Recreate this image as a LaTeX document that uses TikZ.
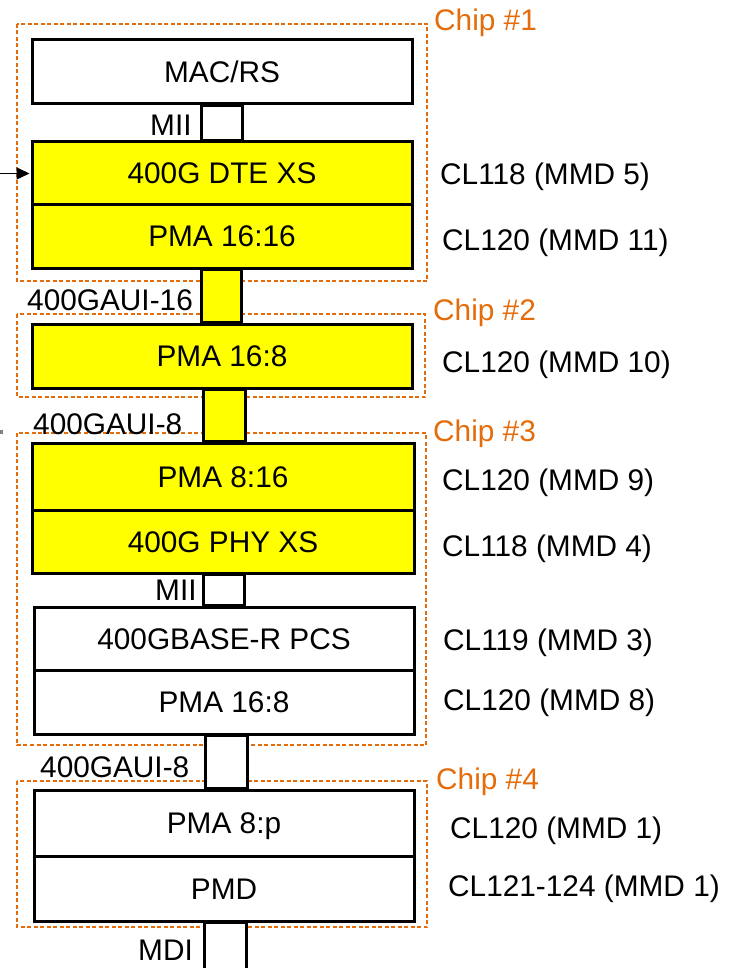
\documentclass[tikz,border=0pt]{standalone}
\usepackage{fontspec}
\setmainfont{Liberation Sans}
\usetikzlibrary{calc, arrows.meta}
\definecolor{chiporange}{RGB}{228, 108, 10}
\definecolor{layeryellow}{RGB}{255, 255, 0}

\begin{document}
\begin{tikzpicture}[
	x=1pt, y=-1pt,
	>=Stealth,
	font=\fontsize{29.8pt}{35pt}\selectfont,
	% Styles for the layer blocks
	layer/.style={draw=black, line width=3pt, fill=white, minimum width=380pt, minimum height=64pt, text height=21pt, text depth=0pt, inner sep=0pt},
	hotlayer/.style={layer, fill=layeryellow},
	% Styles for the interface stubs and chip frames
	stub/.style={draw=black, line width=3pt, fill=white},
	hotstub/.style={stub, fill=layeryellow},
	chipframe/.style={draw=chiporange, line width=1.4pt, dash pattern=on 4pt off 2.5pt},
	hostarrow/.style={line width=1.5pt, arrows={-Stealth[length=13pt, width=12pt, inset=0pt]}},
	% Styles for text
	chiptext/.style={anchor=base west, text=chiporange, inner sep=0pt},
	clausetext/.style={anchor=base west, inner sep=0pt},
	iftext/.style={anchor=base west, inner sep=0pt}
	]
	\useasboundingbox (0,0) rectangle (740,968);
	
	% ==========================================
	% CHIP FRAMES
	% ==========================================
	\draw[chipframe] (17, 24) rectangle (427, 281);
	\draw[chipframe] (17, 314) rectangle (425, 397);
	\draw[chipframe] (17, 433) rectangle (426, 745);
	\draw[chipframe] (17, 781) rectangle (427, 927);
	
	\node[chiptext] (chipA) at (434, 30.5) {Chip \#1};
	\node[chiptext] (chipB) at (433, 320.5) {Chip \#2};
	\node[chiptext] (chipC) at (433, 441.5) {Chip \#3};
	\node[chiptext] (chipD) at (436, 789.5) {Chip \#4};
	
	% ==========================================
	% CHIP #1: MAC/RS, DTE XS, PMA 16:16
	% ==========================================
	\node[layer] (macrs) at (222, 72) {MAC/RS};
	\node[hotlayer, minimum height=63pt] (dtexs) at (222, 173.5) {400G DTE XS};
	\node[hotlayer, minimum height=63pt] (pmaA) at (222, 236.5) {PMA 16:16};
	
	% MII stub
	\draw[stub] ($(macrs.south)+(-21,0)$) rectangle ($(dtexs.north)+(20,0)$);
	\node[iftext] (miiA) at (150, 135.5) {MII};
	
	% host side arrow
	\coordinate (hostin) at (0, 173.5);
	\draw[hostarrow] (hostin) -- ($(dtexs.west)+(-1,0)$);
	\fill[black!50] (0, 430) rectangle (3, 434);
	
	% ==========================================
	% CHIP #2: PMA 16:8
	% ==========================================
	\node[hotlayer] (pmaB) at (222, 356) {PMA 16:8};
	
	\draw[hotstub] ($(pmaA.south)+(-21,0)$) rectangle ($(pmaB.north)+(19,0)$);
	\node[iftext] (gauiA) at (27, 310.5) {400GAUI-16};
	
	% ==========================================
	% CHIP #3: PMA 8:16, PHY XS, PCS, PMA 16:8
	% ==========================================
	\node[hotlayer, minimum width=382pt, minimum height=67pt] (pmaC) at (223, 476.5) {PMA 8:16};
	\node[hotlayer, minimum width=382pt, minimum height=63pt] (phyxs) at (223, 541.5) {400G PHY XS};
	\node[layer, minimum height=63pt] (pcs) at (224, 638.5) {400GBASE-R PCS};
	\node[layer] (pmaD) at (224, 702) {PMA 16:8};
	
	\draw[hotstub] ($(pmaB.south)+(-19,0)$) rectangle ($(pmaC.north)+(22,0)$);
	\node[iftext] (gauiB) at (33, 434.5) {400GAUI-8};
	
	\draw[stub] ($(phyxs.south)+(-20,0)$) rectangle ($(pcs.north)+(20,0)$);
	\node[iftext] (miiB) at (155, 600.5) {MII};
	
	% ==========================================
	% CHIP #4: PMA 8:p, PMD
	% ==========================================
	\node[layer, minimum height=66pt] (pmaE) at (224, 823) {PMA 8:p};
	\node[layer, minimum height=65pt] (pmd) at (224, 888.5) {PMD};
	
	\draw[stub] ($(pmaD.south)+(-19,0)$) rectangle ($(pmaE.north)+(23,0)$);
	\node[iftext] (gauiC) at (40, 777.5) {400GAUI-8};
	
	% MDI stub runs off the page
	\coordinate (mdiend) at (246, 972);
	\draw[stub] ($(pmd.south)+(-20,0)$) rectangle (mdiend);
	\node[iftext] (mdi) at (138, 960.5) {MDI};
	
	% ==========================================
	% CLAUSE LABELS
	% ==========================================
	\node[clausetext] (clA) at (440, 184.5) {CL118 (MMD 5)};
	\node[clausetext] (clB) at (442, 250.5) {CL120 (MMD 11)};
	\node[clausetext] (clC) at (442, 372.5) {CL120 (MMD 10)};
	\node[clausetext] (clD) at (442, 490.5) {CL120 (MMD 9)};
	\node[clausetext] (clE) at (442, 556.5) {CL118 (MMD 4)};
	\node[clausetext] (clF) at (443, 650.5) {CL119 (MMD 3)};
	\node[clausetext] (clG) at (443, 710.5) {CL120 (MMD 8)};
	\node[clausetext] (clH) at (450, 838.5) {CL120 (MMD 1)};
	\node[clausetext] (clI) at (448, 896.5) {CL121-124 (MMD 1)};
	
\end{tikzpicture}
\end{document}
